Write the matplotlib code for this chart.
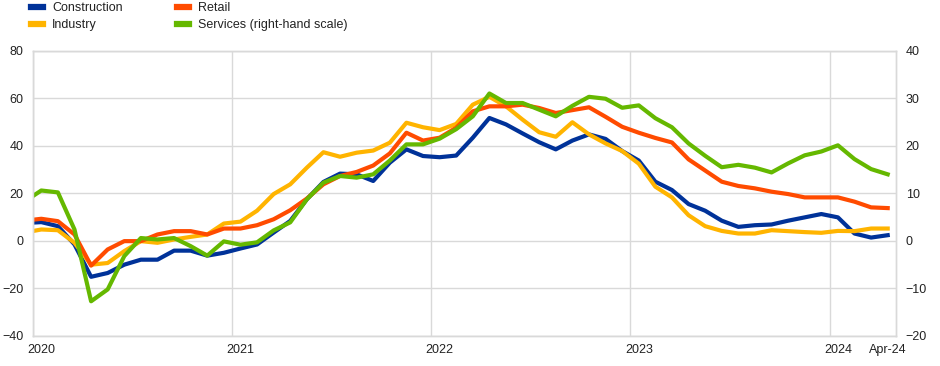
import numpy as np
import matplotlib
matplotlib.use("Agg")
import matplotlib.pyplot as plt

plt.rcParams['font.family'] = ['Liberation Sans', 'DejaVu Sans']

# monthly, Dec 2019 .. Apr 2024 (first point sits just left of the axis)
construction = [7.5, 7.9, 6.2, -1.5, -15.1, -13.5, -10.0, -7.9, -7.9, -4.1, -4.1, -6.2, -5.0,
                -3.2, -1.5, 3.5, 8.4, 17.5, 24.8, 28.3, 28.0, 25.2, 32.9, 38.5, 35.7,
                35.2, 35.9, 43.4, 51.7, 49.0, 45.2, 41.5, 38.5, 42.2, 44.8, 42.9, 37.8,
                33.8, 24.9, 21.4, 15.5, 12.7, 8.5, 5.9, 6.6, 6.9, 8.5, 9.9, 11.3,
                9.9, 3.1, 1.4, 2.4]
industry = [3.5, 4.8, 4.5, -0.8, -10.0, -9.3, -4.3, -0.1, -0.8, 0.6, 1.7, 2.7, 7.3,
            8.1, 12.7, 19.7, 23.8, 30.8, 37.3, 35.4, 37.1, 38.0, 41.3, 49.7, 47.8,
            46.6, 49.2, 57.3, 60.6, 56.6, 51.0, 45.7, 43.8, 49.9, 44.8, 41.0, 37.8,
            32.5, 22.8, 18.3, 10.8, 6.2, 4.2, 3.1, 3.1, 4.5, 4.1, 3.7, 3.4,
            4.2, 4.1, 5.2, 5.2]
retail = [8.5, 9.3, 8.3, 2.7, -10.4, -3.6, -0.1, -0.1, 2.7, 4.1, 4.1, 2.7, 5.2,
          5.2, 6.6, 9.1, 12.9, 17.8, 23.8, 27.3, 29.0, 31.7, 36.8, 45.5, 42.2,
          43.4, 47.6, 54.5, 56.6, 56.6, 57.3, 55.9, 53.8, 55.0, 56.2, 52.2, 48.0,
          45.5, 43.3, 41.4, 34.3, 29.6, 24.9, 23.1, 22.1, 20.7, 19.7, 18.3, 18.3,
          18.3, 16.5, 14.1, 13.8]
services = [8.3, 10.6, 10.2, 2.4, -12.7, -10.2, -3.2, 0.6, 0.3, 0.6, -1.1, -3.1, -0.1,
            -0.8, -0.3, 2.2, 3.9, 8.75, 12.25, 13.65, 13.3, 14.0, 16.9, 20.3, 20.3,
            21.5, 23.5, 26.2, 31.0, 29.0, 29.0, 27.6, 26.2, 28.4, 30.3, 29.9, 28.0,
            28.5, 25.8, 23.9, 20.5, 17.9, 15.5, 16.0, 15.4, 14.4, 16.3, 18.0, 18.8,
            20.1, 17.2, 15.1, 14.0]

x_labels = ["2020", "2021", "2022", "2023", "2024", "Apr-24"]
x_label_pos = [0.5, 12.5, 24.5, 36.5, 48.5, 51.5]

# x = months since Jan 2020, points at mid-month
x = np.arange(-1, len(construction) - 1) + 0.5

grid_c = "#d9d9d9"
txt_c = "#222222"

fig = plt.figure(figsize=(9.4, 3.66), dpi=100)
ax = fig.add_axes([33 / 940, 1 - 336 / 366, (896 - 33) / 940, (336 - 50.7) / 366])
ax2 = ax.twinx()

lw = 3.0
l1, = ax.plot(x, construction, color="#003299", lw=lw, label="Construction")
l2, = ax.plot(x, industry, color="#FFB400", lw=lw, label="Industry")
l3, = ax.plot(x, retail, color="#FF4B00", lw=lw, label="Retail")
l4, = ax2.plot(x, services, color="#65B800", lw=lw, label="Services (right-hand scale)")

ax.set_xlim(0, 52)
ax.set_ylim(-40, 80)
ax2.set_ylim(-20, 40)
ax.set_yticks(np.arange(-40, 81, 20))
ax2.set_yticks(np.arange(-20, 41, 10))

ax.set_xticks([0, 12, 24, 36, 48])
ax.set_xticklabels([])
ax.set_xticks(x_label_pos, minor=True)
ax.set_xticklabels(x_labels, minor=True)

ax.grid(True, which="major", color=grid_c, lw=1)
ax.set_axisbelow(True)
ax.tick_params(axis="both", which="both", length=0, labelsize=9, colors=txt_c)
ax.tick_params(axis="x", which="minor", pad=6)
ax.tick_params(axis="y", pad=7)
ax2.tick_params(axis="y", length=0, labelsize=9, colors=txt_c, pad=7)

for a in (ax, ax2):
    for s in a.spines.values():
        s.set_color(grid_c)
        s.set_linewidth(1)

fig.legend(handles=[l1, l2, l3, l4], ncol=2, loc="upper left",
           bbox_to_anchor=(31 / 940, 1 - 2 / 366), frameon=False, fontsize=9,
           handlelength=0.95, handletextpad=0.75, columnspacing=4.3,
           labelspacing=0.42, borderpad=0.0, borderaxespad=0.0,
           labelcolor=txt_c)
leg = fig.legends[0]
for h in leg.legend_handles:
    h.set_linewidth(4.5)

fig.savefig("out.png", dpi=100)
